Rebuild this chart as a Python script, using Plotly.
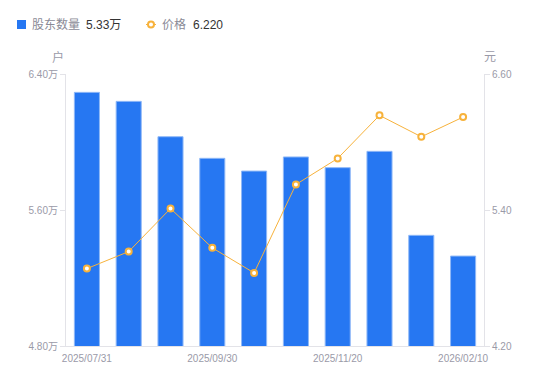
import plotly.graph_objects as go

dates = ["2025/07/31", "2025/08/20", "2025/09/10", "2025/09/30", "2025/10/20",
         "2025/10/31", "2025/11/20", "2025/12/10", "2025/12/31", "2026/02/10"]
holders = [6.292, 6.239, 6.031, 5.904, 5.829, 5.912, 5.849, 5.945, 5.451, 5.329]  # 万户
prices = [4.883, 5.033, 5.413, 5.066, 4.845, 5.625, 5.855, 6.235, 6.046, 6.220]
tick_dates = ["2025/07/31", "2025/09/30", "2025/11/20", "2026/02/10"]
left_ticks = [4.80, 5.60, 6.40]
right_ticks = [4.20, 5.40, 6.60]
legend_names = ["股东数量", "价格"]
legend_values = ["5.33万", "6.220"]

FONT = "Liberation Sans, Noto Sans CJK SC, sans-serif"
GREY = "#9a9aa8"
AX = "#e3e3e8"
BLUE = "#2677f2"
ORANGE = "#f7b23b"

OFF = 8  # page body margin
W, H = 550 - OFF, 381 - OFF
L, T = 66 - OFF, 74 - OFF
R, B = 66, 35
PW, PH = W - L - R, H - T - B


def px(x):
    return (x - OFF - L) / PW


def py(y):
    return (H - B - (y - OFF)) / PH


fig = go.Figure()
fig.add_trace(go.Bar(
    x=dates, y=holders, width=0.6,
    marker=dict(color=BLUE, line=dict(color="#8fb8f7", width=1)),
    name=legend_names[0], yaxis="y", showlegend=False,
))
fig.add_trace(go.Scatter(
    x=dates, y=prices, mode="lines+markers",
    line=dict(color=ORANGE, width=1),
    marker=dict(symbol="circle", size=6, color="white", line=dict(color=ORANGE, width=2)),
    name=legend_names[1], yaxis="y2", showlegend=False,
))

shapes = [
    dict(type="rect", xref="paper", yref="paper", x0=px(17), x1=px(26), y0=py(29), y1=py(20),
         fillcolor=BLUE, line=dict(width=0)),
    dict(type="line", xref="paper", yref="paper", x0=px(146), x1=px(156), y0=py(24.5), y1=py(24.5),
         line=dict(color=ORANGE, width=1)),
    dict(type="circle", xref="paper", yref="paper", x0=px(148), x1=px(154), y0=py(27.5), y1=py(21.5),
         fillcolor="white", line=dict(color=ORANGE, width=2)),
]

ann = [
    dict(text=legend_names[0], x=px(30), y=py(24.5), font=dict(size=12, color="#8a8a96")),
    dict(text=legend_values[0], x=px(84), y=py(24.5), font=dict(size=12, color="#333333")),
    dict(text=legend_names[1], x=px(160), y=py(24.5), font=dict(size=12, color="#8a8a96")),
    dict(text=legend_values[1], x=px(191), y=py(24.5), font=dict(size=12, color="#333333")),
]
for a in ann:
    a.update(xref="paper", yref="paper", xanchor="left", yanchor="middle", showarrow=False)
ann += [
    dict(text="户", xref="paper", yref="paper", x=px(58), y=py(57), xanchor="center", yanchor="middle",
         showarrow=False, font=dict(size=12, color=GREY)),
    dict(text="元", xref="paper", yref="paper", x=px(490), y=py(57), xanchor="center", yanchor="middle",
         showarrow=False, font=dict(size=12, color=GREY)),
]

fig.update_layout(
    width=W, height=H,
    margin=dict(l=L, r=R, t=T, b=B, autoexpand=False),
    paper_bgcolor="white", plot_bgcolor="white",
    font=dict(family=FONT, size=10, color=GREY),
    showlegend=False,
    xaxis=dict(type="category", tickmode="array", tickvals=tick_dates, ticktext=tick_dates,
               range=[-0.5, len(dates) - 0.5], ticklabelstandoff=3,
               showline=True, linecolor=AX, linewidth=1, ticks="", showgrid=False,
               tickfont=dict(size=10, color=GREY), fixedrange=True),
    yaxis=dict(range=[4.80, 6.40], tickvals=left_ticks,
               ticktext=[f"{v:.2f}万" for v in left_ticks],
               showline=True, linecolor=AX, linewidth=1, ticks="outside", ticklen=5,
               tickcolor=AX, showgrid=False, zeroline=False,
               tickfont=dict(size=10, color=GREY)),
    yaxis2=dict(range=[4.20, 6.60], tickvals=right_ticks,
                ticktext=[f"{v:.2f}" for v in right_ticks],
                overlaying="y", side="right",
                showline=True, linecolor=AX, linewidth=1, ticks="outside", ticklen=5,
                tickcolor=AX, showgrid=False, zeroline=False,
                tickfont=dict(size=10, color=GREY)),
    shapes=shapes,
    annotations=ann,
)

fig.write_html("out.html")
